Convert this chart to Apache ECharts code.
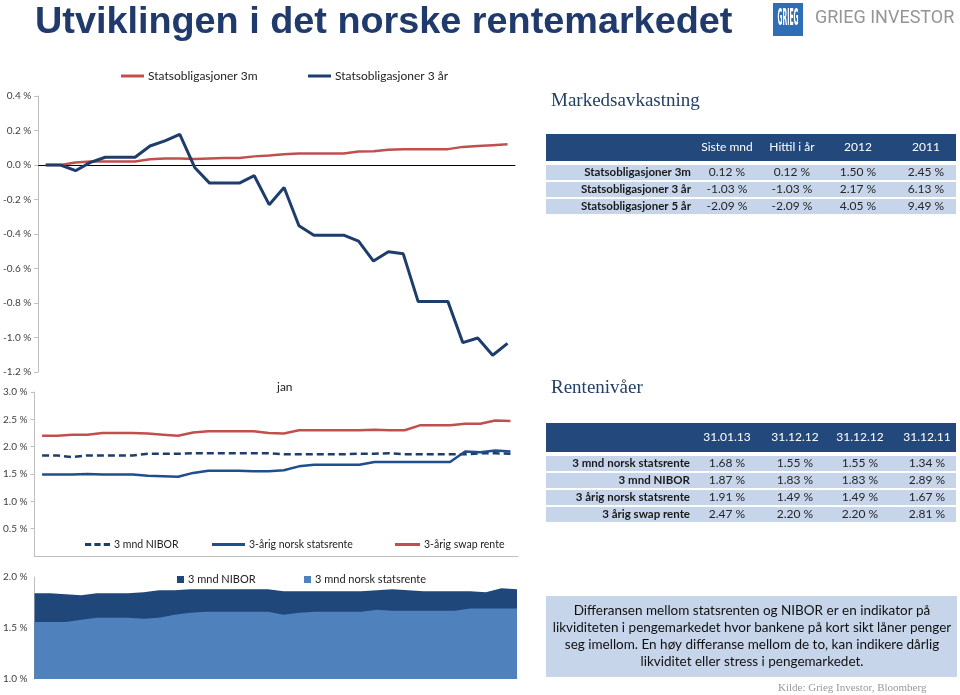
<!DOCTYPE html>
<html><head><meta charset="utf-8">
<script src="https://cdn.jsdelivr.net/npm/echarts@6/dist/echarts.min.js"></script>
<style>html,body{margin:0;padding:0;background:#fff}#c{width:960px;height:695px}</style>
</head><body><div id="c"></div>
<script>
const categories = ['31.12.12','01.01.13','02.01.13','03.01.13','04.01.13','05.01.13','06.01.13','07.01.13','08.01.13','09.01.13','10.01.13','11.01.13','12.01.13','13.01.13','14.01.13','15.01.13','16.01.13','17.01.13','18.01.13','19.01.13','20.01.13','21.01.13','22.01.13','23.01.13','24.01.13','25.01.13','26.01.13','27.01.13','28.01.13','29.01.13','30.01.13','31.01.13'];

// Top chart: accumulated return (%)
const stat3mReturn = [0.0,0.0,0.015,0.02,0.02,0.02,0.02,0.033,0.038,0.038,0.035,0.038,0.04,0.04,0.05,0.055,0.063,0.067,0.067,0.067,0.067,0.078,0.08,0.088,0.092,0.092,0.092,0.092,0.105,0.11,0.115,0.12];
const stat3yReturn = [0.0,0.0,-0.033,0.015,0.045,0.045,0.045,0.11,0.14,0.178,-0.014,-0.105,-0.105,-0.105,-0.062,-0.23,-0.13,-0.352,-0.407,-0.407,-0.407,-0.441,-0.557,-0.503,-0.515,-0.792,-0.792,-0.792,-1.03,-1.003,-1.103,-1.034];

// Middle chart: rate levels (%)
const nibor3m = [1.84,1.84,1.81,1.84,1.84,1.84,1.84,1.87,1.87,1.87,1.88,1.88,1.88,1.88,1.88,1.88,1.86,1.86,1.86,1.86,1.86,1.87,1.87,1.88,1.86,1.86,1.86,1.86,1.86,1.88,1.88,1.87];
const stat3yRate = [1.49,1.49,1.49,1.50,1.49,1.49,1.49,1.47,1.46,1.45,1.52,1.56,1.56,1.56,1.55,1.55,1.57,1.64,1.67,1.67,1.67,1.67,1.72,1.72,1.72,1.72,1.72,1.72,1.91,1.90,1.93,1.91];
const swap3y = [2.20,2.20,2.22,2.22,2.25,2.25,2.25,2.24,2.22,2.20,2.26,2.28,2.28,2.28,2.28,2.25,2.24,2.30,2.30,2.30,2.30,2.30,2.31,2.30,2.30,2.39,2.39,2.39,2.42,2.42,2.48,2.47];

// Bottom chart
const niborBottom = [1.84,1.84,1.83,1.82,1.84,1.84,1.84,1.85,1.87,1.87,1.88,1.88,1.88,1.88,1.88,1.88,1.86,1.86,1.86,1.86,1.86,1.86,1.87,1.88,1.87,1.86,1.86,1.86,1.86,1.85,1.89,1.88];
const stat3mRate = [1.56,1.56,1.56,1.58,1.60,1.60,1.60,1.59,1.60,1.63,1.65,1.66,1.66,1.66,1.66,1.66,1.63,1.65,1.66,1.66,1.66,1.66,1.68,1.67,1.67,1.67,1.67,1.67,1.69,1.69,1.69,1.69];

// Tables
const table1Cols = ['Siste mnd','Hittil i år','2012','2011'];
const table1Rows = ['Statsobligasjoner 3m','Statsobligasjoner 3 år','Statsobligasjoner 5 år'];
const table1Vals = [['0.12 %','0.12 %','1.50 %','2.45 %'],['-1.03 %','-1.03 %','2.17 %','6.13 %'],['-2.09 %','-2.09 %','4.05 %','9.49 %']];
const table2Cols = ['31.01.13','31.12.12','31.12.12','31.12.11'];
const table2Rows = ['3 mnd norsk statsrente','3 mnd NIBOR','3 årig norsk statsrente','3 årig swap rente'];
const table2Vals = [['1.68 %','1.55 %','1.55 %','1.34 %'],['1.87 %','1.83 %','1.83 %','2.89 %'],['1.91 %','1.49 %','1.49 %','1.67 %'],['2.47 %','2.20 %','2.20 %','2.81 %']];
const noteLines = ['Differansen mellom statsrenten og NIBOR er en indikator på','likviditeten i pengemarkedet hvor bankene på kort sikt låner penger','seg imellom. En høy differanse mellom de to, kan indikere dårlig','likviditet eller stress i pengemarkedet.'];

const FONT = 'Lato, "Open Sans", sans-serif';
const NAVY = '#1F3D6B', RED = '#C0504D';
const HEAD = '#23497C', ROWBG = '#C7D5EB';

function T(x, y, text, font, fill, align, vAlign) {
  return {type:'text', x:x, y:y, silent:true, style:{text:text, font:font, fill:fill, textAlign:align||'left', textVerticalAlign:vAlign||'middle', align:align||'left', verticalAlign:vAlign||'middle'}};
}
function R(x, y, w, h, fill) { return {type:'rect', silent:true, shape:{x:x,y:y,width:w,height:h}, style:{fill:fill}}; }

function buildTable(top, headH, rowTops, rowH, cols, colX, rows, vals, labelRight) {
  const g = [];
  g.push(R(546, top, 410, headH, HEAD));
  cols.forEach((c,i)=>g.push(T(colX[i], top+headH/2, c, '12px '+FONT, '#ffffff', 'center')));
  rows.forEach((r,j)=>{
    g.push(R(546, rowTops[j], 410, rowH, ROWBG));
    g.push(T(labelRight, rowTops[j]+rowH/2, r, 'bold 11.5px '+FONT, '#1a1a1a', 'right'));
    vals[j].forEach((v,i)=>g.push(T(colX[i], rowTops[j]+rowH/2, v, '12px '+FONT, '#262626', 'center')));
  });
  return g;
}

const graphics = [];
graphics.push(T(35, 23, 'Utviklingen i det norske rentemarkedet', 'bold 37.8px "Liberation Sans", Arial, sans-serif', '#1F3A6B'));
graphics.push(R(773, 3, 30, 33, '#2F6DB5'));
graphics.push({type:'text', x:788, y:19, scaleX:0.55, scaleY:2.1, silent:true, style:{text:'GRIEG', font:'bold 11px "DejaVu Sans"', fill:'#ffffff', textAlign:'center', textVerticalAlign:'middle', align:'center', verticalAlign:'middle'}});
graphics.push(T(815, 18, 'GRIEG INVESTOR', '18px Roboto, sans-serif', '#959595'));
graphics.push(T(551, 101, 'Markedsavkastning', '19px "Liberation Serif", serif', '#243F66'));
graphics.push(T(551, 388, 'Rentenivåer', '19px "Liberation Serif", serif', '#243F66'));
graphics.push(T(277, 387, 'jan', '12px '+FONT, '#222'));
graphics.push(...buildTable(134, 27, [165,182,199], 15, table1Cols, [727,792,858,926], table1Rows, table1Vals, 691));
graphics.push(...buildTable(423, 29, [456,473,490,507], 15, table2Cols, [727,795,860,927], table2Rows, table2Vals, 690));
graphics.push(R(546, 596, 411, 81, ROWBG));
noteLines.forEach((l,i)=>graphics.push(T(752, 611+i*17, l, '13.5px '+FONT, '#111', 'center')));
graphics.push(T(778, 688, 'Kilde: Grieg Investor, Bloomberg', '11px "Liberation Serif", serif', '#999999'));

const pct = v => v.toFixed(1) + ' %';
const yBase = {type:'value', splitLine:{show:false},
  axisLine:{show:true, lineStyle:{color:'#bfbfbf'}},
  axisTick:{show:true, length:4, lineStyle:{color:'#bfbfbf'}},
  axisLabel:{formatter:pct, fontSize:10, color:'#404040', fontFamily:FONT, margin:7}};

const DASH_ICON = 'path://M0,0h6v2h-6zM9,0h6v2h-6zM18,0h6v2h-6z';
function leg(name, left, top, w, h, icon, size, keep) {
  return {data:[name], left:left, top:top, itemWidth:w, itemHeight:h, icon:icon, symbolKeepAspect:!!keep, padding:0, itemGap:0,
    formatter:n=>n.replace('#b',''), textStyle:{fontSize:size, color:'#222', fontFamily:FONT, padding:[0,0,0,-1]}};
}

const option = {
  animation:false,
  backgroundColor:'#ffffff',
  grid:[
    {left:34, right:445, top:96, height:276},
    {left:34, right:442, top:392, height:164},
    {left:34, right:443, top:577, height:102}
  ],
  xAxis:[
    {gridIndex:0, type:'category', data:categories, boundaryGap:true, axisLine:{onZero:true, lineStyle:{color:'#000', width:1}}, axisTick:{show:false}, axisLabel:{show:false}},
    {gridIndex:1, type:'category', data:categories, boundaryGap:true, axisLine:{lineStyle:{color:'#bfbfbf'}}, axisTick:{show:false}, axisLabel:{show:false}},
    {gridIndex:2, type:'category', data:categories, boundaryGap:false, axisLine:{show:false}, axisTick:{show:false}, axisLabel:{show:false}}
  ],
  yAxis:[
    Object.assign({}, yBase, {gridIndex:0, min:-1.2, max:0.4, interval:0.2}),
    Object.assign({}, yBase, {gridIndex:1, min:0, max:3, interval:0.5, axisLabel:Object.assign({}, yBase.axisLabel, {showMinLabel:false})}),
    Object.assign({}, yBase, {gridIndex:2, min:1, max:2, interval:0.5, axisTick:{show:false}})
  ],
  legend:[
    leg('Statsobligasjoner 3m', 121, 70, 23, 3, 'rect', 12),
    leg('Statsobligasjoner 3 år', 308, 70, 23, 3, 'rect', 12),
    leg('3 mnd NIBOR', 85, 539, 25, 3, DASH_ICON, 10.5),
    leg('3-årig norsk statsrente', 212, 539, 33, 3, 'rect', 10.5),
    leg('3-årig swap rente', 395, 539, 25, 3, 'rect', 10.5),
    leg('3 mnd NIBOR#b', 177, 574, 7, 7, 'rect', 11),
    leg('3 mnd norsk statsrente', 304, 574, 7, 7, 'rect', 11)
  ],
  series:[
    {name:'Statsobligasjoner 3m', type:'line', xAxisIndex:0, yAxisIndex:0, data:stat3mReturn, symbol:'none', color:RED, lineStyle:{width:2.5, color:RED}},
    {name:'Statsobligasjoner 3 år', type:'line', xAxisIndex:0, yAxisIndex:0, data:stat3yReturn, symbol:'none', color:NAVY, lineStyle:{width:3, color:NAVY}},
    {name:'3 mnd NIBOR', type:'line', xAxisIndex:1, yAxisIndex:1, data:nibor3m, symbol:'none', color:NAVY, lineStyle:{width:2.5, color:NAVY, type:[7,4]}},
    {name:'3-årig norsk statsrente', type:'line', xAxisIndex:1, yAxisIndex:1, data:stat3yRate, symbol:'none', color:'#1F4E8C', lineStyle:{width:2.5, color:'#1F4E8C'}},
    {name:'3-årig swap rente', type:'line', xAxisIndex:1, yAxisIndex:1, data:swap3y, symbol:'none', color:RED, lineStyle:{width:2.5, color:RED}},
    {name:'3 mnd NIBOR#b', type:'line', xAxisIndex:2, yAxisIndex:2, data:niborBottom, symbol:'none', color:'#1F477A', lineStyle:{width:0}, areaStyle:{color:'#1F477A', opacity:1, origin:'start'}},
    {name:'3 mnd norsk statsrente', type:'line', xAxisIndex:2, yAxisIndex:2, data:stat3mRate, symbol:'none', color:'#4F81BD', lineStyle:{width:0}, areaStyle:{color:'#4F81BD', opacity:1, origin:'start'}}
  ],
  graphic: graphics
};
const chart = echarts.init(document.getElementById('c'), null, {renderer:'canvas'});
chart.setOption(option);
</script></body></html>
